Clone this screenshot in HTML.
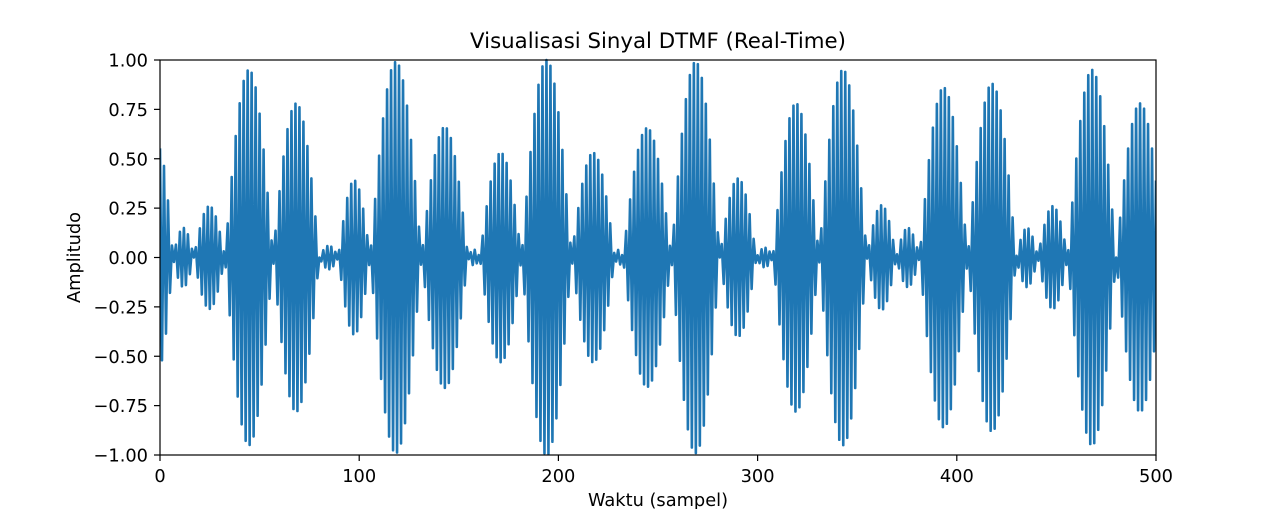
<!DOCTYPE html>
<html><head><meta charset="utf-8">
<style>
html,body{margin:0;padding:0;background:#fff;}
svg{display:block;font-family:"DejaVu Sans","Liberation Sans",sans-serif;}
</style></head>
<body>
<svg id="chart" width="1280" height="509" viewBox="0 0 1280 509" xmlns="http://www.w3.org/2000/svg">
  <rect x="0" y="0" width="1280" height="509" fill="#fff"/>
  <text x="658" y="48" font-size="21.3" text-anchor="middle" fill="#000">Visualisasi Sinyal DTMF (Real-Time)</text>
  <g id="plot"></g>
  <g id="axes"></g>
  <text x="658" y="506" font-size="17.8" text-anchor="middle" fill="#000">Waktu (sampel)</text>
  <text transform="translate(80,257.5) rotate(-90)" font-size="17.8" text-anchor="middle" fill="#000">Amplitudo</text>
</svg>
<script>
// Envelope lobes: zero crossings of the envelope and lobe peak amplitudes
const lobeZeros = [-8, 6.5, 17, 32.6, 56.7, 80, 89.5, 105.5, 131.3, 154.6, 160.6, 181.5, 206.6, 228.3, 232.4, 256.7, 281, 299.4, 307.7, 330.8, 354.9, 369.6, 381.3, 405.5, 429.8, 440.7, 455.7, 480, 504];
const lobeAmps = [0.56, 0.15, 0.26, 0.95, 0.78, 0.06, 0.39, 0.99, 0.66, 0.04, 0.53, 1.0, 0.53, 0.04, 0.655, 0.99, 0.40, 0.05, 0.78, 0.95, 0.265, 0.15, 0.86, 0.88, 0.15, 0.26, 0.95, 0.78];
const sampleCount = 500;
const xTicks = [0, 100, 200, 300, 400, 500];
const yTicks = [-1.0, -0.75, -0.5, -0.25, 0.0, 0.25, 0.5, 0.75, 1.0];
const yTickLabels = ["\u22121.00", "\u22120.75", "\u22120.50", "\u22120.25", "0.00", "0.25", "0.50", "0.75", "1.00"];

const L = 160, R = 1156, T = 60, B = 455;
const xMin = 0, xMax = 500, yMin = -1, yMax = 1;
function xs(v){ return L + (v - xMin) / (xMax - xMin) * (R - L); }
function ys(v){ return B - (v - yMin) / (yMax - yMin) * (B - T); }
const NS = "http://www.w3.org/2000/svg";

function envelope(n){
  for (let i = 0; i < lobeAmps.length; i++){
    const a = lobeZeros[i], b = lobeZeros[i+1];
    if (n >= a && n <= b) return lobeAmps[i] * Math.sin(Math.PI * (n - a) / (b - a));
  }
  return 0;
}
const signal = [];
for (let n = 0; n <= sampleCount; n++){
  signal.push(envelope(n) * (n % 2 === 0 ? 1 : -1));
}

const plot = document.getElementById('plot');
const clip = document.createElementNS(NS, 'clipPath');
clip.setAttribute('id', 'clipArea');
const cr = document.createElementNS(NS, 'rect');
cr.setAttribute('x', L); cr.setAttribute('y', T - 2);
cr.setAttribute('width', R - L); cr.setAttribute('height', B - T + 4);
clip.appendChild(cr);
plot.appendChild(clip);

let d = '';
signal.forEach((v, n) => { d += (n ? 'L' : 'M') + xs(n).toFixed(2) + ' ' + ys(v).toFixed(2); });
const line = document.createElementNS(NS, 'path');


line.setAttribute('d', d);
line.setAttribute('fill', 'none');
line.setAttribute('stroke', '#1f77b4');
line.setAttribute('stroke-width', '2.6');
line.setAttribute('stroke-linejoin', 'round');
line.setAttribute('clip-path', 'url(#clipArea)');
plot.appendChild(line);

const axes = document.getElementById('axes');
const frame = document.createElementNS(NS, 'rect');


frame.setAttribute('x', L); frame.setAttribute('y', T);
frame.setAttribute('width', R - L); frame.setAttribute('height', B - T);
frame.setAttribute('fill', 'none'); frame.setAttribute('stroke', '#000'); frame.setAttribute('stroke-width', '1.2');
axes.appendChild(frame);

xTicks.forEach(v => {
  const t = document.createElementNS(NS, 'line');
  
  
  t.setAttribute('x1', xs(v)); t.setAttribute('x2', xs(v));
  t.setAttribute('y1', B); t.setAttribute('y2', B + 6);
  t.setAttribute('stroke', '#000'); t.setAttribute('stroke-width', '1.2');
  axes.appendChild(t);
  const tx = document.createElementNS(NS, 'text');
  
  
  tx.setAttribute('x', xs(v)); tx.setAttribute('y', B + 27);
  tx.setAttribute('font-size', '17.8'); tx.setAttribute('text-anchor', 'middle');
  tx.textContent = String(v);
  axes.appendChild(tx);
});
yTicks.forEach((v, i) => {
  const t = document.createElementNS(NS, 'line');
  
  
  t.setAttribute('x1', L - 6); t.setAttribute('x2', L);
  t.setAttribute('y1', ys(v)); t.setAttribute('y2', ys(v));
  t.setAttribute('stroke', '#000'); t.setAttribute('stroke-width', '1.2');
  axes.appendChild(t);
  const tx = document.createElementNS(NS, 'text');
  
  
  tx.setAttribute('x', L - 12); tx.setAttribute('y', ys(v) + 6.5);
  tx.setAttribute('font-size', '17.8'); tx.setAttribute('text-anchor', 'end');
  tx.textContent = yTickLabels[i];
  axes.appendChild(tx);
});
</script>
</body></html>
